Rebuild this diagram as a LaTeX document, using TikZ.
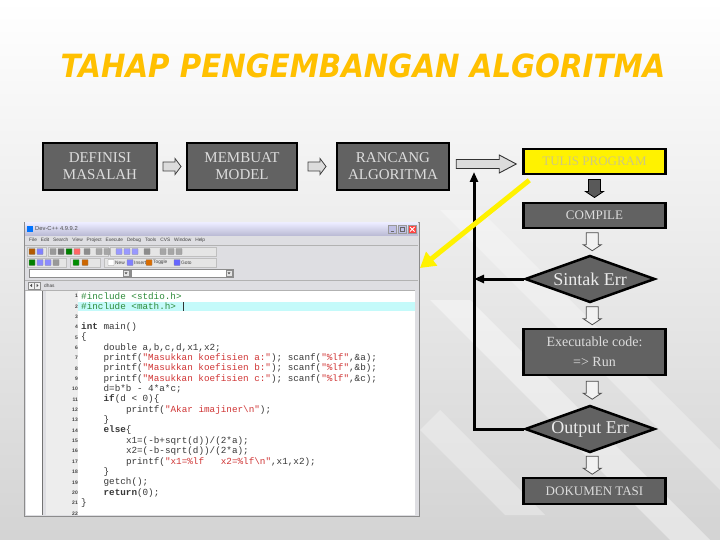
\documentclass[tikz,border=0pt]{standalone}
\usepackage{fontspec}
\usepackage{graphicx}
\setmainfont{Liberation Serif}
\newfontfamily\titlefont{DejaVu Sans}
\newfontfamily\monofont{Liberation Mono}
\newfontfamily\uifont{Liberation Sans}
\usetikzlibrary{shapes.geometric,arrows.meta,calc}
\definecolor{titleyel}{HTML}{FFC000}
\definecolor{boxgray}{HTML}{626262}
\definecolor{boxtext}{HTML}{DCDCDC}
\definecolor{arrowfill}{HTML}{DCDCDC}
\definecolor{codered}{HTML}{D03535}
\definecolor{codegreen}{HTML}{2E8B3A}
\definecolor{hlcyan}{HTML}{C4FAFA}
\definecolor{winbg}{HTML}{DEDEE2}
\definecolor{tulistext}{HTML}{CFC880}
\begin{document}
\begin{tikzpicture}[x=1pt,y=-1pt,
  flowbox/.style={draw=black, line width=2.5pt, fill=boxgray, text=boxtext, align=center, inner sep=0pt, font=\fontsize{15}{17}\selectfont},
  decision/.style={diamond, draw=black, line width=2.5pt, fill=boxgray, minimum width=130pt, minimum height=47pt, inner sep=0pt},
  dlabel/.style={text=white!92!black, font=\fontsize{18}{20}\selectfont},
  fbline/.style={line width=3pt, draw=black},
  yellowarr/.style={line width=5pt, draw=yellow, -{Triangle[length=15pt,width=17pt]}},
  smallright/.pic={\draw[fill=arrowfill, draw=black!75, line width=0.8pt] (-9,-4.5) -- (3,-4.5) -- (3,-8) -- (9,0) -- (3,8) -- (3,4.5) -- (-9,4.5) -- cycle;},
  bigright/.pic={\draw[fill=arrowfill, draw=black!80, line width=0.9pt] (-30,-4.5) -- (13,-4.5) -- (13,-9) -- (30,0) -- (13,9) -- (13,4.5) -- (-30,4.5) -- cycle;},
  lightdown/.pic={\draw[fill=white!95!black, draw=black!70, line width=0.8pt] (-6,-9) -- (6,-9) -- (6,3) -- (9,3) -- (0,9) -- (-9,3) -- (-6,3) -- cycle;},
  darkdown/.pic={\draw[fill=black!65, draw=black, line width=0.8pt] (-6,-9) -- (6,-9) -- (6,3) -- (9,3) -- (0,9) -- (-9,3) -- (-6,3) -- cycle;},
  codeline/.style={anchor=west, inner sep=0pt, text=black!78, font=\monofont\fontsize{9.3}{10}\selectfont},
  lineno/.style={anchor=east, inner sep=0pt, text=black!75, font=\uifont\bfseries\fontsize{5}{5}\selectfont},
  menutext/.style={anchor=west, inner sep=0pt, text=black!75, font=\uifont\fontsize{4.8}{5}\selectfont},
  icon/.style={draw=black!45, line width=0.3pt, rounded corners=0.5pt},
  tbpanel/.style={draw=black!25, fill=white!90!black, line width=0.4pt}
]
\useasboundingbox (0,0) rectangle (720,540);
% background
\shade[top color=white, bottom color=black!17] (0,0) rectangle (720,540);
\fill[white, opacity=0.4] (430,300) -- (470,300) -- (720,550) -- (680,550) -- cycle;
\fill[white, opacity=0.3] (440,210) -- (480,210) -- (720,450) -- (720,490) -- cycle;
\fill[white, opacity=0.3] (420,430) -- (440,410) -- (545,515) -- (505,515) -- cycle;

% title
\node[font=\titlefont\bfseries\itshape\fontsize{32}{34}\selectfont, text=titleyel] (title) at (363,66) {\scalebox{0.915}[1]{TAHAP PENGEMBANGAN ALGORITMA}};

% top row
\node[flowbox, minimum width=114pt, minimum height=47pt] (def) at (100,166.5) {DEFINISI\\MASALAH};
\node[flowbox, minimum width=110pt, minimum height=47pt] (mod) at (242,166.5) {MEMBUAT\\MODEL};
\node[flowbox, minimum width=112pt, minimum height=47pt] (ran) at (393,166.5) {RANCANG\\ALGORITMA};
\node[flowbox, fill=yellow, text=tulistext, minimum width=142pt, minimum height=25pt, font=\fontsize{13}{15}\selectfont] (tulis) at (594.5,161.5) {TULIS PROGRAM};

\pic at ($(def.east)!0.5!(mod.west)$) {smallright};
\pic at ($(mod.east)!0.5!(ran.west)$) {smallright};
\pic at ($(ran.east)!0.5!(tulis.west)$) {bigright};

% vertical flow
\node[flowbox, minimum width=142pt, minimum height=25pt, font=\fontsize{13}{15}\selectfont] (compile) at (594.5,215.5) {COMPILE};
\node[decision, label={[dlabel]center:Sintak Err}] (sintak) at (590,279) {};
\node[flowbox, minimum width=142pt, minimum height=46pt, font=\fontsize{14}{20}\selectfont] (exec) at (594.5,352) {Executable code:\\=> Run};
\node[decision, label={[dlabel]center:Output Err}] (output) at (590,429) {};
\node[flowbox, minimum width=142pt, minimum height=26pt, font=\fontsize{13}{15}\selectfont] (dok) at (594.5,491) {DOKUMEN TASI};

\pic at ($(tulis.south)!0.5!(compile.north)$) {darkdown};
\pic at ($(compile.south)!0.5!(sintak.north)$) {lightdown};
\pic at ($(sintak.south)!0.5!(exec.north)$) {lightdown};
\pic at ($(exec.south)!0.5!(output.north)$) {lightdown};
\pic at ($(output.south)!0.5!(dok.north)$) {lightdown};

% feedback
\coordinate (fbtop) at (474,172);
\draw[fbline, -{Triangle[length=10pt,width=8pt]}] (output.west) -| (fbtop);
\draw[fbline, -{Triangle[length=10pt,width=8pt]}] (sintak.west) -- (sintak.west -| fbtop);

% ===== Dev-C++ window =====
\node[draw=black!45, fill=winbg, line width=0.8pt, minimum width=395pt, minimum height=294pt, inner sep=0pt] (win) at (221.5,369) {};
% title bar
\shade[top color=white!92!blue, bottom color=black!18!white!90!blue] (25,223) rectangle (418,235);
\fill[blue!55!cyan] (27,226) rectangle (33,232);
\node[menutext, font=\uifont\fontsize{5.8}{6}\selectfont, text=black!70] at (35,229) {Dev-C++ 4.9.9.2};
\draw[fill=black!12!white!85!blue, draw=black!40, line width=0.3pt] (388.5,225) rectangle (396.5,233.5);
\draw[fill=black!12!white!85!blue, draw=black!40, line width=0.3pt] (398,225) rectangle (406,233.5);
\draw[fill=red!75, draw=black!40, line width=0.3pt] (408,225) rectangle (416.5,233.5);
\draw[white, line width=0.8pt] (410,227) -- (414.5,231.5) (410,231.5) -- (414.5,227);
\draw[black!60, line width=0.6pt] (390.5,231.5) -- (394,231.5);
\draw[black!60, line width=0.4pt] (400,227) rectangle (404,231.5);
% menu bar
\node[menutext] at (29,240.5) {File\hspace{4pt}Edit\hspace{4pt}Search\hspace{4pt}View\hspace{4pt}Project\hspace{4pt}Execute\hspace{4pt}Debug\hspace{4pt}Tools\hspace{4pt}CVS\hspace{4pt}Window\hspace{4pt}Help};
\draw[black!30, line width=0.4pt] (25,245.5) -- (418,245.5);
% toolbar row 1
\draw[tbpanel] (27,247) rectangle (46,256.5);
\draw[tbpanel] (48,247) rectangle (108,256.5);
\draw[tbpanel] (110,247) rectangle (216,256.5);
\foreach \xx/\cc in {29/orange!70!black, 37/blue!50, 50/black!40, 58/black!55, 66/green!50!black, 74/red!60, 84/black!45, 96/black!35, 104/black!35, 116/blue!40, 124/blue!40, 132/blue!40, 144/black!45, 160/black!35, 168/black!35, 176/black!35}
  \draw[icon, fill=\cc] (\xx,248.5) rectangle ++(6,6);
% toolbar row 2
\draw[tbpanel] (27,258) rectangle (66,267.5);
\draw[tbpanel] (70,258) rectangle (100,267.5);
\draw[tbpanel] (104,258) rectangle (216,267.5);
\foreach \xx/\cc in {29/green!50!black, 37/blue!45, 45/blue!45, 53/black!40, 73/green!55!black, 82/orange!80!black, 108/white, 127/blue!50, 146/orange!85!black, 174/blue!60}
  \draw[icon, fill=\cc] (\xx,259.5) rectangle ++(6,6);
\node[menutext] at (115,262.7) {New};
\node[menutext] at (134,262.7) {Insert};
\node[menutext] at (153,262.7) {Toggle};
\node[menutext] at (181,262.7) {Goto};
% combo row
\draw[fill=white, draw=black!45, line width=0.4pt] (29,269) rectangle (130,277.5);
\draw[fill=black!10, draw=black!45, line width=0.3pt] (123,270) rectangle (129,276.5);
\fill[black!70] (124.5,272.3) -- (127.5,272.3) -- (126,274.3) -- cycle;
\draw[fill=white, draw=black!45, line width=0.4pt] (131,269) rectangle (233,277.5);
\draw[fill=black!10, draw=black!45, line width=0.3pt] (226,270) rectangle (232,276.5);
\fill[black!70] (227.5,272.3) -- (230.5,272.3) -- (229,274.3) -- cycle;
\draw[black!30, line width=0.4pt] (25,280) -- (418,280);
% tab row
\draw[fill=white!95!black, draw=black!45, line width=0.3pt] (28,282) rectangle (34,289);
\draw[fill=white!95!black, draw=black!45, line width=0.3pt] (34.5,282) rectangle (40.5,289);
\fill[black!70] (32,283.8) -- (32,287.2) -- (30,285.5) -- cycle;
\fill[black!70] (36.5,283.8) -- (36.5,287.2) -- (38.5,285.5) -- cycle;
\node[menutext] at (44,285.5) {dhas};
% editor area
\fill[white] (25.5,291) rectangle (42,515);
\draw[black!55, line width=0.5pt] (42.5,291) -- (42.5,515);
\draw[black!55, line width=0.5pt] (46,291) -- (46,515);
\fill[white!93!black] (46.3,291) rectangle (78,515);
\fill[white] (78,291) rectangle (415,515);
\draw[black!30, line width=0.4pt] (25,290.5) -- (415,290.5);
\fill[hlcyan] (78,302) rectangle (415,310.5);
\draw[black!80, line width=0.6pt] (183.5,302) -- (183.5,310.5);
% line numbers
\foreach \k in {1,...,22}
  \node[lineno] at (78,{296+(\k-1)*10.35}) {\k};
% code
\node[codeline, text=codegreen] at (81,296) {\#include <stdio.h>};
\node[codeline, text=codegreen] at (81,306.35) {\#include <math.h>};
\node[codeline] at (81,327.05) {\textbf{int} main()};
\node[codeline] at (81,337.4) {\{};
\node[codeline] at (103.4,347.75) {double a,b,c,d,x1,x2;};
\node[codeline] at (103.4,358.1) {printf({\color{codered}"Masukkan koefisien a:"}); scanf({\color{codered}"\%lf"},\&a);};
\node[codeline] at (103.4,368.45) {printf({\color{codered}"Masukkan koefisien b:"}); scanf({\color{codered}"\%lf"},\&b);};
\node[codeline] at (103.4,378.8) {printf({\color{codered}"Masukkan koefisien c:"}); scanf({\color{codered}"\%lf"},\&c);};
\node[codeline] at (103.4,389.15) {d=b*b - 4*a*c;};
\node[codeline] at (103.4,399.5) {\textbf{if}(d < 0)\{};
\node[codeline] at (125.8,409.85) {printf({\color{codered}"Akar imajiner\textbackslash n"});};
\node[codeline] at (103.4,420.2) {\}};
\node[codeline] at (103.4,430.55) {\textbf{else}\{};
\node[codeline] at (125.8,440.9) {x1=(-b+sqrt(d))/(2*a);};
\node[codeline] at (125.8,451.25) {x2=(-b-sqrt(d))/(2*a);};
\node[codeline] at (125.8,461.6) {printf({\color{codered}"x1=\%lf\ \ \ x2=\%lf\textbackslash n"},x1,x2);};
\node[codeline] at (103.4,471.95) {\}};
\node[codeline] at (103.4,482.3) {getch();};
\node[codeline] at (103.4,492.65) {\textbf{return}(0);};
\node[codeline] at (81,503) {\}};

% yellow arrow from TULIS PROGRAM to the window
\coordinate (ystart) at ($(tulis.south west)+(7,5)$);
\coordinate (yend) at (420,268);
\draw[yellowarr] (ystart) -- (yend);
\end{tikzpicture}
\end{document}
